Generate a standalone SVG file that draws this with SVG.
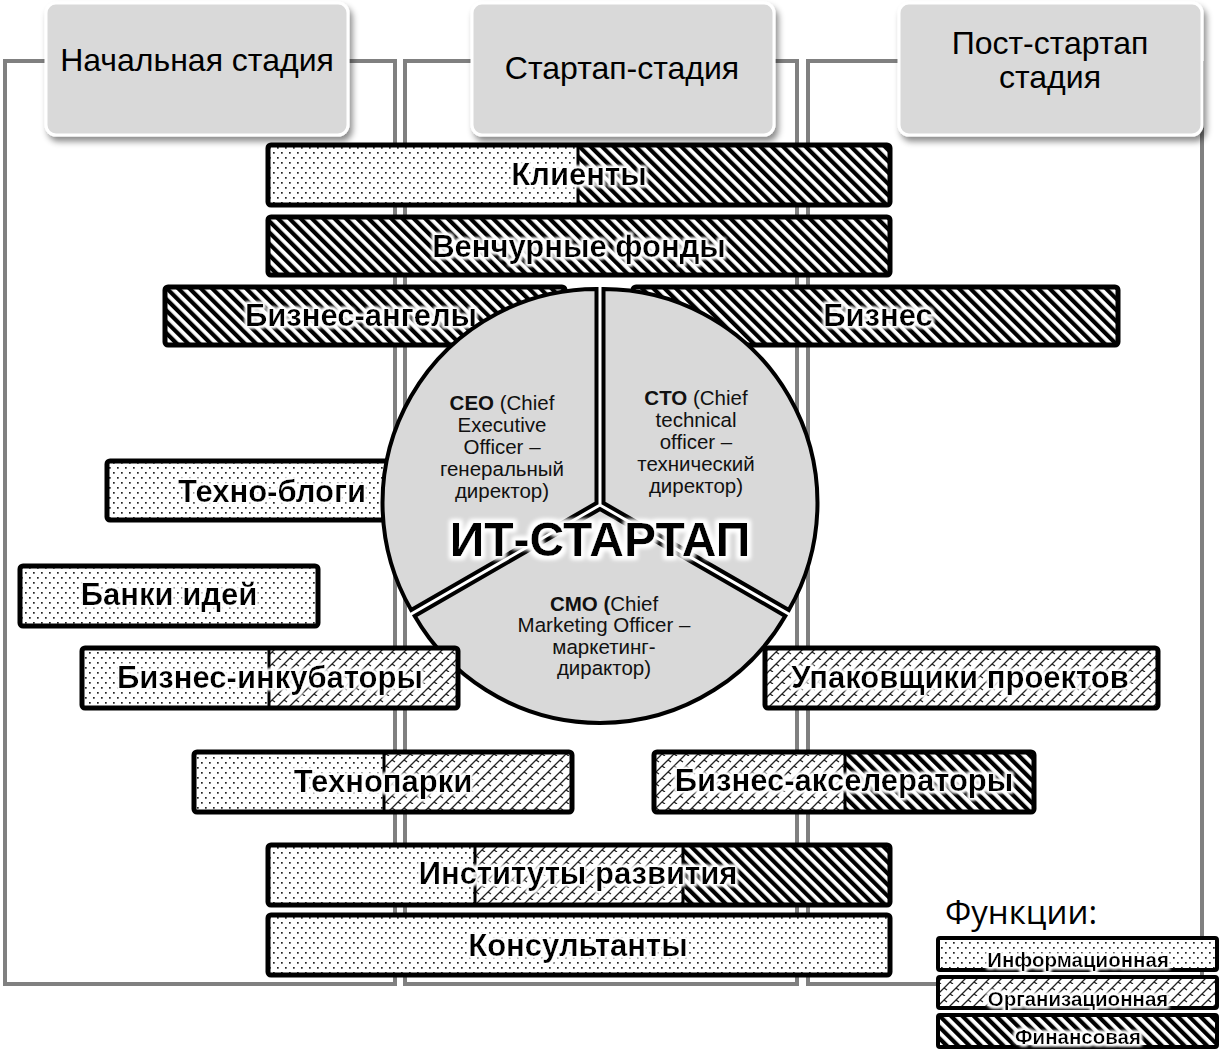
<svg xmlns="http://www.w3.org/2000/svg" width="1220" height="1049" viewBox="0 0 1220 1049">
<style>
.frame{fill:none;stroke:#808080;stroke-width:4}
.hdr{fill:#d9d9d9;stroke:#fff;stroke-width:3}
.htxt{font-family:"Liberation Sans",Arial,sans-serif;font-size:32px;fill:#000;text-anchor:middle}
.bar{stroke:#000;stroke-width:5}
.split{stroke:#000;stroke-width:3}
.btxt{font-family:"Liberation Sans",Arial,sans-serif;font-size:31px;font-weight:bold;fill:#000;text-anchor:middle}
.sec{fill:#d9d9d9;stroke:#000;stroke-width:4}
.stxt{font-family:"Liberation Sans",Arial,sans-serif;font-size:20.5px;fill:#111;text-anchor:middle}
.ltxt{font-family:"Liberation Sans",Arial,sans-serif;font-size:20.5px;font-weight:bold;fill:#000;text-anchor:middle}
.lbox{stroke:#000;stroke-width:4}
</style>
<defs>
<pattern id="pInfo" width="8" height="10" patternUnits="userSpaceOnUse">
<rect width="8" height="10" fill="#fff"/>
<rect x="1" y="2" width="1.7" height="1.7" fill="#222"/>
<rect x="5" y="7" width="1.7" height="1.7" fill="#222"/>
</pattern>
<pattern id="pOrg" width="12" height="12" patternUnits="userSpaceOnUse">
<rect width="12" height="12" fill="#fff"/>
<path d="M0,12 L12,0 M-6,6 L6,-6 M6,18 L18,6" stroke="#222" stroke-width="1.3" fill="none"/>
<path d="M2,10 L5,12 M8,4 L11,6" stroke="#222" stroke-width="1.3" fill="none"/>
</pattern>
<pattern id="pFin" width="8" height="8" patternUnits="userSpaceOnUse" patternTransform="rotate(-45)">
<rect width="8" height="8" fill="#fff"/>
<rect width="4.2" height="8" fill="#000"/>
</pattern>
<filter id="shadow" x="-10%" y="-10%" width="125%" height="130%">
<feDropShadow dx="3" dy="5" stdDeviation="3" flood-color="#000" flood-opacity="0.45"/>
</filter>
<filter id="glow" x="-10%" y="-40%" width="120%" height="180%">
<feMorphology in="SourceAlpha" operator="dilate" radius="2" result="d"/>
<feGaussianBlur in="d" stdDeviation="1.5" result="b"/>
<feFlood flood-color="#fff"/>
<feComposite in2="b" operator="in" result="w"/>
<feMerge><feMergeNode in="w"/><feMergeNode in="w"/><feMergeNode in="SourceGraphic"/></feMerge>
</filter>
<filter id="glowBig" x="-10%" y="-40%" width="120%" height="180%">
<feMorphology in="SourceAlpha" operator="dilate" radius="3" result="d"/>
<feGaussianBlur in="d" stdDeviation="2" result="b"/>
<feFlood flood-color="#fff"/>
<feComposite in2="b" operator="in" result="w"/>
<feMerge><feMergeNode in="w"/><feMergeNode in="w"/><feMergeNode in="SourceGraphic"/></feMerge>
</filter>
</defs>
<rect width="1220" height="1049" fill="#fff"/>

<g id="connectors">
<path class="frame" d="M46,61 H5 V984 H395 V61 H348"/>
<path class="frame" d="M472,61 H405 V984 H797 V61 H773"/>
<path class="frame" d="M899,61 H808 V984 H1202 V61"/>
</g>

<g id="stage-initial">
<rect class="hdr" x="46" y="3" width="302" height="132" rx="10" filter="url(#shadow)"/>
<text class="htxt" x="197" y="71">Начальная стадия</text>
</g>
<g id="stage-startup">
<rect class="hdr" x="472" y="3" width="302" height="132" rx="10" filter="url(#shadow)"/>
<text class="htxt" x="622" y="79">Стартап-стадия</text>
</g>
<g id="stage-poststartup">
<rect class="hdr" x="899" y="3" width="303" height="132" rx="10" filter="url(#shadow)"/>
<text class="htxt" x="1050" y="54">Пост-стартап</text>
<text class="htxt" x="1050" y="88">стадия</text>
</g>

<g id="bar-clients">
<rect x="268" y="145" width="310" height="60" fill="url(#pInfo)"/>
<rect x="578" y="145" width="312" height="60" fill="url(#pFin)"/>
<line class="split" x1="578" y1="145" x2="578" y2="205"/>
<rect class="bar" x="268" y="145" width="622" height="60" rx="3" fill="none"/>
<text class="btxt" x="579" y="185" filter="url(#glow)">Клиенты</text>
</g>
<g id="bar-venture">
<rect class="bar" x="268" y="217" width="622" height="58" rx="3" fill="url(#pFin)"/>
<text class="btxt" x="579" y="257" filter="url(#glow)">Венчурные фонды</text>
</g>
<g id="bar-angels">
<rect class="bar" x="165" y="287" width="400" height="58" rx="3" fill="url(#pFin)"/>
<text class="btxt" x="361" y="326" filter="url(#glow)">Бизнес-ангелы</text>
</g>
<g id="bar-business">
<rect class="bar" x="633" y="287" width="485" height="58" rx="3" fill="url(#pFin)"/>
<text class="btxt" x="878" y="326" filter="url(#glow)">Бизнес</text>
</g>
<g id="bar-techblogs">
<rect class="bar" x="107" y="461" width="313" height="59" rx="3" fill="url(#pInfo)"/>
<text class="btxt" x="272" y="502" filter="url(#glow)">Техно-блоги</text>
</g>
<g id="bar-ideabanks">
<rect class="bar" x="20" y="566" width="298" height="60" rx="3" fill="url(#pInfo)"/>
<text class="btxt" x="169" y="605" filter="url(#glow)">Банки идей</text>
</g>

<g id="it-startup">
<g transform="translate(596.5,503)">
<path class="sec" d="M0,0 L0,-214 A214,214 0 0 0 -185.3,107 Z"/>
</g>
<g transform="translate(603.5,503)">
<path class="sec" d="M0,0 L0,-214 A214,214 0 0 1 185.3,107 Z"/>
</g>
<g transform="translate(600,509)">
<path class="sec" d="M0,0 L-185.3,107 A214,214 0 0 0 185.3,107 Z"/>
</g>
<text class="stxt"><tspan x="502" y="410"><tspan font-weight="bold">CEO</tspan> (Chief</tspan><tspan x="502" y="432">Executive</tspan><tspan x="502" y="454">Officer –</tspan><tspan x="502" y="476">генеральный</tspan><tspan x="502" y="498">директор)</tspan></text>
<text class="stxt"><tspan x="696" y="405"><tspan font-weight="bold">CTO</tspan> (Chief</tspan><tspan x="696" y="427">technical</tspan><tspan x="696" y="449">officer –</tspan><tspan x="696" y="471">технический</tspan><tspan x="696" y="493">директор)</tspan></text>
<text class="stxt"><tspan x="604" y="611"><tspan font-weight="bold">CMO (</tspan>Chief</tspan><tspan x="604" y="632">Marketing Officer –</tspan><tspan x="604" y="654">маркетинг-</tspan><tspan x="604" y="675">дирактор)</tspan></text>
<text x="600" y="556" font-family="Liberation Sans, Arial, sans-serif" font-size="48" font-weight="bold" text-anchor="middle" fill="#000" filter="url(#glowBig)">ИТ-СТАРТАП</text>
</g>

<g id="bar-incubators">
<rect x="82" y="648" width="187" height="60" fill="url(#pInfo)"/>
<rect x="269" y="648" width="189" height="60" fill="url(#pOrg)"/>
<line class="split" x1="269" y1="648" x2="269" y2="708"/>
<rect class="bar" x="82" y="648" width="376" height="60" rx="3" fill="none"/>
<text class="btxt" x="270" y="688" filter="url(#glow)">Бизнес-инкубаторы</text>
</g>
<g id="bar-packagers">
<rect class="bar" x="765" y="648" width="393" height="60" rx="3" fill="url(#pOrg)"/>
<text class="btxt" x="960" y="688" filter="url(#glow)">Упаковщики проектов</text>
</g>
<g id="bar-technoparks">
<rect x="194" y="752" width="190" height="60" fill="url(#pInfo)"/>
<rect x="384" y="752" width="188" height="60" fill="url(#pOrg)"/>
<line class="split" x1="384" y1="752" x2="384" y2="812"/>
<rect class="bar" x="194" y="752" width="378" height="60" rx="3" fill="none"/>
<text class="btxt" x="383" y="792" filter="url(#glow)">Технопарки</text>
</g>
<g id="bar-accelerators">
<rect x="654" y="752" width="191" height="60" fill="url(#pOrg)"/>
<rect x="845" y="752" width="189" height="60" fill="url(#pFin)"/>
<line class="split" x1="845" y1="752" x2="845" y2="812"/>
<rect class="bar" x="654" y="752" width="380" height="60" rx="3" fill="none"/>
<text class="btxt" x="844" y="791" filter="url(#glow)">Бизнес-акселераторы</text>
</g>
<g id="bar-institutes">
<rect x="268" y="845" width="207" height="60" fill="url(#pInfo)"/>
<rect x="475" y="845" width="208" height="60" fill="url(#pOrg)"/>
<rect x="683" y="845" width="207" height="60" fill="url(#pFin)"/>
<line class="split" x1="475" y1="845" x2="475" y2="905"/>
<line class="split" x1="683" y1="845" x2="683" y2="905"/>
<rect class="bar" x="268" y="845" width="622" height="60" rx="3" fill="none"/>
<text class="btxt" x="578" y="884" filter="url(#glow)">Институты развития</text>
</g>
<g id="bar-consultants">
<rect class="bar" x="268" y="915" width="622" height="60" rx="3" fill="url(#pInfo)"/>
<text class="btxt" x="578" y="956" filter="url(#glow)">Консультанты</text>
</g>

<g id="legend">
<text x="945" y="924" font-family="Open Sans, sans-serif" font-size="33" fill="#000">Функции:</text>
<g id="legend-info">
<rect class="lbox" x="938" y="938" width="279" height="32" rx="2" fill="url(#pInfo)"/>
<text class="ltxt" x="1078" y="967" filter="url(#glow)">Информационная</text>
</g>
<g id="legend-org">
<rect class="lbox" x="938" y="977" width="279" height="31" rx="2" fill="url(#pOrg)"/>
<text class="ltxt" x="1078" y="1006" filter="url(#glow)">Организационная</text>
</g>
<g id="legend-fin">
<rect class="lbox" x="938" y="1015" width="279" height="32" rx="2" fill="url(#pFin)"/>
<text class="ltxt" x="1078" y="1044" filter="url(#glow)">Финансовая</text>
</g>
</g>
</svg>
